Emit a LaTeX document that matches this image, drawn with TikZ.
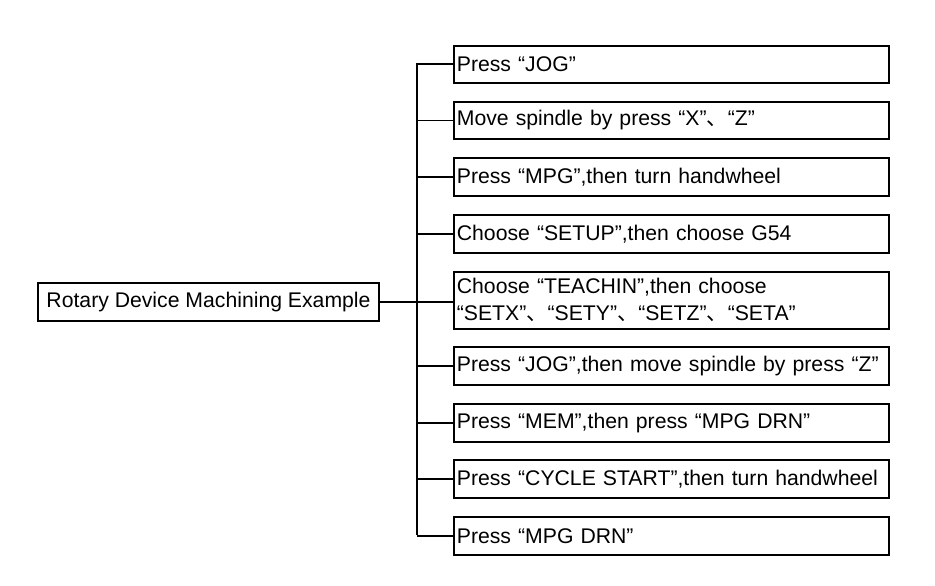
\documentclass[tikz,border=0pt]{standalone}
\usepackage{fontspec}
\setmainfont{Liberation Sans}
\newfontfamily\cjk{Noto Sans CJK SC}
\newcommand{\dun}{{\cjk 、}}
\begin{document}
\begin{tikzpicture}[x=1pt,y=1pt,yscale=-1,
  stepbox/.style={draw,line width=1.8pt,anchor=north west,minimum width=435pt,inner sep=2pt,
    text width=429pt,align=left,font=\fontsize{21.2}{27}\selectfont},
  link/.style={line width=1.8pt}]
\useasboundingbox (0,0) rectangle (935,586);

% root
\node [draw,line width=1.8pt,minimum width=341pt,minimum height=38pt,font=\fontsize{21.2}{25}\selectfont] (root) at (208.5,302) {Rotary Device Machining Example};
\coordinate (trunk) at (417,302);
\coordinate (top) at (417,63);
\coordinate (bot) at (417,535);

% steps
\node [stepbox,minimum height=37pt] (s1) at (453,45) {Press “JOG”};
\node [stepbox,minimum height=37pt] (s2) at (453,101) {Move spindle by press “X”\dun“Z”};
\node [stepbox,minimum height=38pt] (s3) at (453,157) {Press “MPG”,then turn handwheel};
\node [stepbox,minimum height=38pt] (s4) at (453,214) {Choose “SETUP”,then choose G54};
\node [stepbox,minimum height=57pt] (s5) at (453,271) {Choose “TEACHIN”,then choose\\“SETX”\dun“SETY”\dun“SETZ”\dun“SETA”};
\node [stepbox,minimum height=38pt] (s6) at (453,346) {Press “JOG”,then move spindle by press “Z”};
\node [stepbox,minimum height=38pt] (s7) at (453,403) {Press “MEM”,then press “MPG DRN”};
\node [stepbox,minimum height=38pt] (s8) at (453,459) {Press “CYCLE START”,then turn handwheel};
\node [stepbox,minimum height=38pt] (s9) at (453,516) {Press “MPG DRN”};

\draw [link] (root.east) -- (trunk);
\draw [link] (top) -- (bot);
\foreach \s in {s1,s2,s3,s4,s6,s7,s8,s9}
  \draw [link] (\s.west) -- (\s.west -| trunk);
\draw [link] (trunk) -- (trunk -| s5.west);
\end{tikzpicture}
\end{document}
